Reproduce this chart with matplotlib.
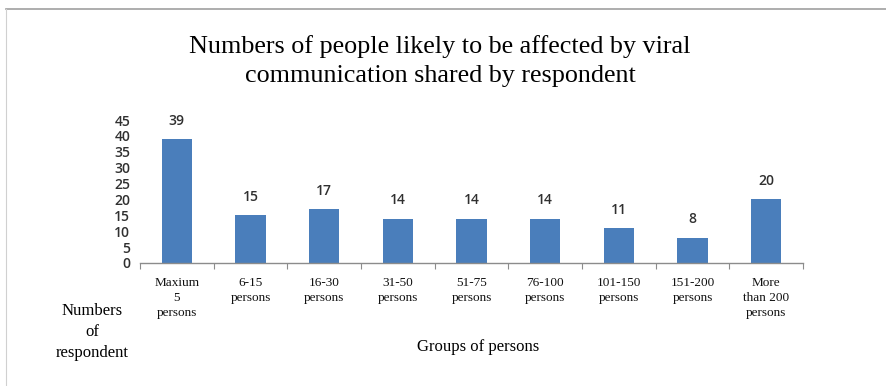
import matplotlib
matplotlib.use("Agg")
import matplotlib.pyplot as plt
from matplotlib.lines import Line2D
import numpy as np

categories = ["Maxium\n5\npersons", "6-15\npersons", "16-30\npersons", "31-50\npersons",
              "51-75\npersons", "76-100\npersons", "101-150\npersons", "151-200\npersons",
              "More\nthan 200\npersons"]
respondents = [39, 15, 17, 14, 14, 14, 11, 8, 20]
y_ticks = [0, 5, 10, 15, 20, 25, 30, 35, 40, 45]

W, H = 886, 386
fig = plt.figure(figsize=(W / 100, H / 100), dpi=100)
fig.patch.set_facecolor("white")

# page border lines
fig.add_artist(Line2D([6 / W, 1], [1 - 8.5 / H, 1 - 8.5 / H], color="#a0a0a0", lw=1.2))
fig.add_artist(Line2D([6 / W, 6 / W], [0, 1 - 8.5 / H], color="#d0d0d0", lw=0.8))

ax = fig.add_axes([140 / W, (H - 263) / H, (803 - 140) / W, (263 - 120) / H])
x = np.arange(len(respondents))
bars = ax.bar(x, respondents, width=0.41, color="#4a7ebb", zorder=2)
ax.set_xlim(-0.5, len(respondents) - 0.5)
ax.set_ylim(0, 45)
ax.set_yticks(y_ticks)
ax.set_yticklabels([str(v) for v in y_ticks], fontsize=10, color="#303030",
                   fontweight="semibold", family=["Open Sans", "DejaVu Sans"])
ax.tick_params(axis="y", length=0, pad=7)
for s in ["top", "right", "left"]:
    ax.spines[s].set_visible(False)
ax.spines["bottom"].set_color("#8c8c8c")
ax.spines["bottom"].set_linewidth(1)

# category separators on the x axis
ax.set_xticks(np.arange(len(respondents) + 1) - 0.5)
ax.set_xticklabels([])
ax.tick_params(axis="x", length=4, color="#8c8c8c", direction="out")

for xi, v in zip(x, respondents):
    ax.annotate(str(v), (xi, v), xytext=(0, 8), textcoords="offset points",
                ha="center", va="bottom", fontsize=10, color="#303030",
                fontweight="semibold", family=["Open Sans", "DejaVu Sans"])

for xi, lab in zip(x, categories):
    ax.text(xi, -0.10, lab, transform=ax.get_xaxis_transform(), ha="center", va="top",
            fontsize=9.5, family="Liberation Serif", linespacing=1.3, color="#111111")

fig.text(440 / W, 1 - 61 / H,
         "Numbers of people likely to be affected by viral\ncommunication shared by respondent",
         ha="center", va="center", fontsize=18.8, family="Liberation Serif",
         linespacing=1.38, color="black")
fig.text(92 / W, 1 - 332 / H, "Numbers\nof\nrespondent", ha="center", va="center",
         fontsize=12, family="Liberation Serif", linespacing=1.4, color="black")
fig.text(478 / W, 1 - 347 / H, "Groups of persons", ha="center", va="center",
         fontsize=12, family="Liberation Serif", color="black")

fig.savefig("out.png", dpi=100, facecolor="white")
